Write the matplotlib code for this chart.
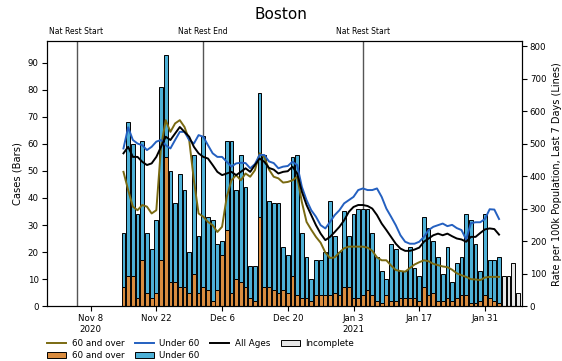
import matplotlib
matplotlib.use("Agg")
import matplotlib.pyplot as plt
import pandas as pd
import numpy as np

# daily cases, complete days
bar_dates = pd.date_range("2020-11-15", "2021-02-03")
over60 = [7, 11, 11, 3, 17, 5, 3, 5, 17, 55, 9, 9, 7, 7, 5, 12, 5, 7, 6, 2,
          6, 19, 28, 5, 10, 9, 7, 3, 2, 33, 7, 7, 6, 5, 6, 5, 11, 4, 3, 3,
          2, 4, 4, 4, 4, 5, 4, 7, 7, 3, 3, 4, 6, 4, 2, 1, 4, 2, 2, 3,
          3, 3, 3, 2, 7, 4, 5, 2, 2, 3, 2, 3, 4, 4, 1, 1, 2, 4, 3, 2, 1]
under60 = [20, 57, 49, 31, 44, 22, 18, 27, 64, 38, 41, 29, 42, 36, 15, 44, 21, 56, 27, 30,
           17, 5, 33, 56, 33, 47, 37, 12, 13, 46, 49, 32, 32, 33, 16, 14, 44, 52, 24, 15,
           8, 13, 13, 16, 35, 21, 16, 28, 19, 31, 33, 32, 30, 23, 16, 12, 6, 21, 19, 10,
           10, 19, 11, 9, 26, 25, 19, 16, 10, 19, 7, 13, 14, 30, 31, 22, 11, 30, 14, 15, 17]

# incomplete days
inc_dates = pd.date_range("2021-02-04", "2021-02-07")
incomplete = [11, 11, 16, 5]

# 7 day rates per 100k
line_dates = pd.date_range("2020-11-15", "2021-02-03")
rate_60 = [413, 357, 306, 295, 311, 306, 285,
           295, 490, 572, 536, 562, 572, 551,
           511, 387, 285, 275, 259, 249, 228,
           244, 336, 387, 403, 387, 408, 398,
           418, 470, 459, 420, 398, 393, 380,
           382, 387, 398, 320, 259, 235, 213,
           195, 165, 148, 150, 165, 178, 183,
           183, 183, 183, 180, 170, 150, 141,
           141, 125, 111, 108, 106, 117, 128,
           135, 141, 138, 130, 126, 122, 120,
           112, 101, 95, 90, 83, 82, 80,
           88, 90, 90, 90]
rate_u60 = [485, 550, 511, 500, 495, 480, 490,
            506, 511, 495, 485, 511, 536, 536,
            511, 500, 526, 521, 495, 470, 459,
            459, 444, 429, 439, 441, 440, 424,
            437, 465, 465, 445, 440, 424, 429,
            431, 444, 434, 367, 326, 295, 275,
            249, 239, 259, 280, 295, 316, 326,
            336, 357, 362, 357, 357, 362, 336,
            300, 275, 249, 218, 198, 192, 192,
            198, 213, 234, 244, 249, 254, 246,
            250, 240, 234, 205, 255, 258, 258,
            268, 298, 297, 268]
rate_all = [470, 490, 459, 459, 444, 434, 439,
            459, 490, 521, 511, 531, 551, 536,
            521, 490, 470, 459, 454, 434, 413,
            403, 408, 413, 403, 413, 424, 413,
            434, 454, 444, 425, 420, 408, 413,
            415, 429, 408, 352, 311, 280, 249,
            223, 203, 213, 228, 244, 264, 290,
            305, 311, 311, 308, 300, 280, 254,
            234, 213, 192, 177, 170, 170, 174,
            180, 198, 208, 218, 223, 218, 223,
            215, 208, 205, 198, 213, 213, 225,
            236, 239, 237, 220]

events = [("2020-11-05", "Nat Rest Start"), ("2020-12-02", "Nat Rest End"), ("2021-01-05", "Nat Rest Start")]
tick_dates = pd.to_datetime(["2020-11-08", "2020-11-22", "2020-12-06", "2020-12-20",
                             "2021-01-03", "2021-01-17", "2021-01-31"])
tick_labels = ["Nov 8\n2020", "Nov 22", "Dec 6", "Dec 20", "Jan 3\n2021", "Jan 17", "Jan 31"]

c_over = "#d98c3f"
c_under = "#4db0d6"
c_inc = "#e6e6e6"

fig = plt.figure(figsize=(5.62, 3.61), dpi=100)
ax = fig.add_axes([0.0836, 0.152, 0.8444, 0.734])
ax2 = ax.twinx()
ax.set_zorder(1)
ax2.set_zorder(2)
ax.patch.set_visible(False)

b1 = ax.bar(bar_dates, over60, width=0.8, color=c_over, edgecolor="black", linewidth=0.7)
b2 = ax.bar(bar_dates, under60, bottom=over60, width=0.8, color=c_under, edgecolor="black", linewidth=0.7)
b3 = ax.bar(inc_dates, incomplete, width=0.8, color=c_inc, edgecolor="black", linewidth=0.7)

l1, = ax2.plot(line_dates, rate_60, color="#7a6a12", lw=1.4)
l2, = ax2.plot(line_dates, rate_u60, color="#2460c0", lw=1.4)
l3, = ax2.plot(line_dates, rate_all, color="black", lw=1.4)

for d, lab in events:
    ax.axvline(pd.Timestamp(d), color="#555555", lw=1.0, zorder=0)
    ax.text(pd.Timestamp(d), 1.02, lab, transform=ax.get_xaxis_transform(),
            ha="center", va="bottom", fontsize=5.5)

ax.set_xlim(pd.Timestamp("2020-10-29 17:00"), pd.Timestamp("2021-02-07 19:00"))
ax.set_ylim(0, 98)
ax2.set_ylim(0, 815)
ax.set_yticks(range(0, 91, 10))
ax2.set_yticks(range(0, 801, 100))
ax.set_xticks(tick_dates)
ax.set_xticklabels(tick_labels)
ax.tick_params(labelsize=6.2, pad=2.5)
ax2.tick_params(labelsize=6.2, pad=2.5)

ax.set_ylabel("Cases (Bars)", fontsize=7.2, labelpad=4)
ax2.set_ylabel("Rate per 100k Population, Last 7 Days (Lines)", fontsize=7, labelpad=4)
fig.suptitle("Boston", fontsize=11, y=0.98)

handles = [l1, b1, l2, b2, l3, b3]
labels = ["60 and over", "60 and over", "Under 60", "Under 60", "All Ages", "Incomplete"]
fig.legend(handles, labels, ncol=4, frameon=False, fontsize=6.3,
           loc="lower left", bbox_to_anchor=(0.07, -0.02),
           handlelength=2.2, columnspacing=1.2, handletextpad=0.6, labelspacing=0.35)

fig.savefig("out.png", dpi=100)
